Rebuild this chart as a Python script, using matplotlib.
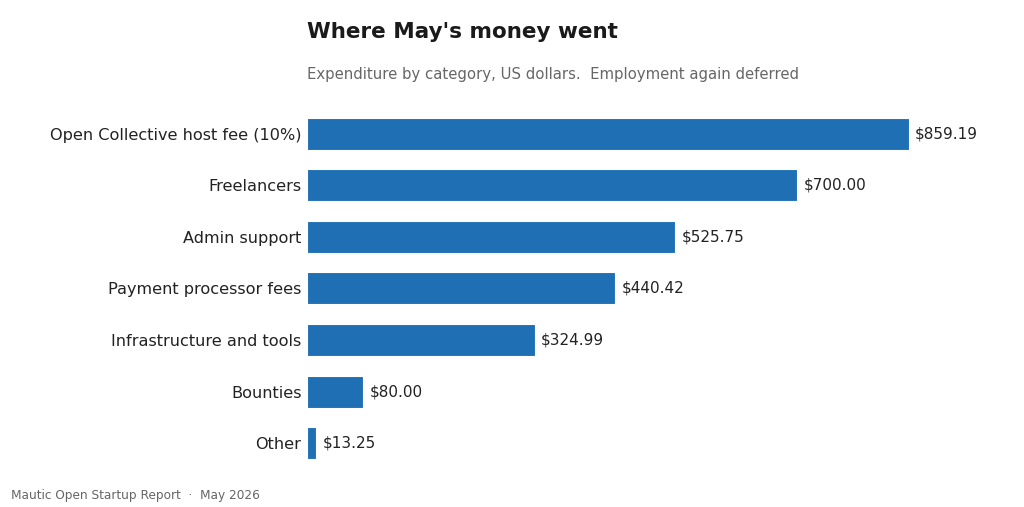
import matplotlib
matplotlib.use("Agg")
import matplotlib.pyplot as plt

plt.rcParams["font.family"] = ["DejaVu Sans"]

# Data
categories = [
    "Open Collective host fee (10%)",
    "Freelancers",
    "Admin support",
    "Payment processor fees",
    "Infrastructure and tools",
    "Bounties",
    "Other",
]
amounts = [859.19, 700.00, 525.75, 440.42, 324.99, 80.00, 13.25]

BAR_COLOR = "#1f6fb4"
TEXT_DARK = "#222222"
TEXT_GREY = "#666666"

fig = plt.figure(figsize=(10.24, 5.07), dpi=100)
fig.set_facecolor("white")

ax = fig.add_axes([0.2998, 0.075, 0.658, 0.712])
positions = list(range(len(categories)))
bars = ax.barh(positions, amounts, height=0.62, color=BAR_COLOR,
               edgecolor="white", linewidth=0.8)

ax.set_ylim(len(categories) - 0.5, -0.5)
ax.set_xlim(0, max(amounts) * 1.12)
ax.set_yticks(positions)
ax.set_yticklabels(categories, fontsize=11.6, color=TEXT_DARK)
ax.tick_params(axis="y", length=0, pad=4)
ax.set_xticks([])
for side in ["top", "right", "bottom", "left"]:
    ax.spines[side].set_visible(False)

for bar, val in zip(bars, amounts):
    ax.annotate(f"${val:,.2f}", xy=(bar.get_width(), bar.get_y() + bar.get_height() / 2),
                xytext=(4.5, 0), textcoords="offset points",
                ha="left", va="center", fontsize=11, color=TEXT_DARK)

# Titles and footer
fig.text(0.2998, 1 - 38 / 507, "Where May's money went", fontsize=15.5,
         fontweight="bold", color="#1a1a1a", ha="left", va="baseline")
fig.text(0.2998, 1 - 79 / 507,
         "Expenditure by category, US dollars.  Employment again deferred",
         fontsize=10.7, color=TEXT_GREY, ha="left", va="baseline")
fig.text(11 / 1024, 1 - 499 / 507, "Mautic Open Startup Report  \u00b7  May 2026",
         fontsize=8.75, color=TEXT_GREY, ha="left", va="baseline")

fig.savefig("out.png", dpi=100, facecolor="white")
plt.close(fig)
